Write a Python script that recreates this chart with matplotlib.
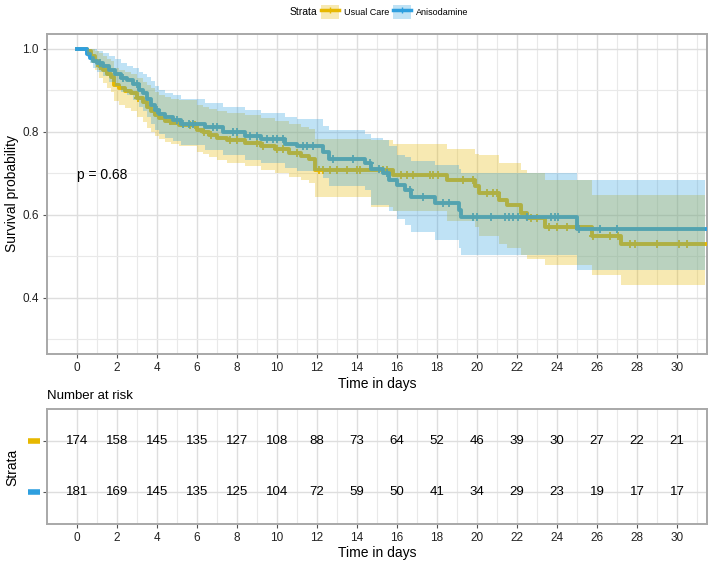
import numpy as np
import matplotlib
matplotlib.use("Agg")
import matplotlib.pyplot as plt
from matplotlib.lines import Line2D
from matplotlib.patches import Patch

plt.rcParams['font.family'] = ['Liberation Sans', 'DejaVu Sans']

strata = ["Usual Care", "Anisodamine"]
colors = ["#E7B800", "#2E9FDF"]

# Usual Care KM curve (change points)
uc_time = [0, 0.5, 0.7, 0.9, 1.1, 1.3, 1.5, 1.7, 1.85, 2.1, 2.4, 2.7, 3.0, 3.3, 3.5, 3.7, 3.9,
           4.1, 4.4, 4.7, 5.1, 6.0, 6.3, 6.6, 7.0, 7.5, 8.4, 9.2, 9.9, 10.6, 11.2, 11.6, 11.9,
           14.7, 15.8, 18.5, 19.9, 20.1, 21.1, 21.5, 22.2, 22.5, 23.4, 25.75, 27.2]
uc_surv = [1.0, 0.994, 0.983, 0.972, 0.96, 0.95, 0.94, 0.933, 0.913, 0.905, 0.899, 0.893, 0.882,
           0.871, 0.86, 0.85, 0.84, 0.833, 0.827, 0.822, 0.817, 0.805, 0.799, 0.793, 0.786, 0.78,
           0.774, 0.766, 0.758, 0.75, 0.742, 0.735, 0.708, 0.708, 0.696, 0.684, 0.67, 0.654,
           0.636, 0.624, 0.604, 0.592, 0.572, 0.55, 0.529]
uc_upper = [1.0, 1.0, 1.0, 0.995, 0.99, 0.983, 0.975, 0.97, 0.955, 0.95, 0.945, 0.94, 0.93, 0.92,
            0.912, 0.905, 0.897, 0.89, 0.885, 0.88, 0.876, 0.866, 0.86, 0.856, 0.85, 0.845, 0.84,
            0.833, 0.826, 0.82, 0.812, 0.806, 0.782, 0.78, 0.772, 0.76, 0.748, 0.744, 0.724,
            0.724, 0.708, 0.70, 0.684, 0.648, 0.648]
uc_lower = [1.0, 0.985, 0.965, 0.95, 0.93, 0.918, 0.905, 0.897, 0.875, 0.865, 0.857, 0.85, 0.835,
            0.823, 0.81, 0.80, 0.79, 0.783, 0.776, 0.77, 0.765, 0.752, 0.746, 0.74, 0.733, 0.726,
            0.718, 0.708, 0.70, 0.692, 0.684, 0.676, 0.644, 0.62, 0.61, 0.585, 0.572, 0.55, 0.53,
            0.52, 0.504, 0.495, 0.48, 0.455, 0.431]
uc_censor = [1.15, 3.05, 4.65, 5.65, 5.9, 6.35, 6.7, 7.65, 8.0, 9.0, 9.3, 10.0, 10.3, 11.0, 12.1,
             12.3, 12.65, 13.0, 13.5, 14.0, 14.15, 15.3, 15.5, 16.2, 16.5, 16.8, 17.65, 17.8,
             18.05, 19.3, 19.8, 20.5, 20.8, 21.0, 22.7, 23.0, 23.6, 24.0, 24.5, 25.8, 26.65,
             27.05, 27.65, 27.9, 29.0, 30.1, 30.5]

# Anisodamine KM curve (change points)
an_time = [0, 0.5, 0.65, 0.8, 1.0, 1.3, 1.6, 1.9, 2.2, 2.5, 2.8, 3.1, 3.3, 3.5, 3.7, 3.9, 4.1,
           4.4, 4.8, 5.2, 6.4, 7.3, 8.4, 9.2, 10.4, 11.0, 12.3, 12.6, 14.4, 14.7, 15.3, 15.6,
           16.0, 16.4, 16.7, 17.9, 19.1, 19.2, 24.98]
an_surv = [1.0, 0.988, 0.977, 0.972, 0.966, 0.96, 0.95, 0.94, 0.93, 0.925, 0.915, 0.90, 0.893,
           0.88, 0.865, 0.853, 0.843, 0.835, 0.828, 0.82, 0.812, 0.80, 0.79, 0.783, 0.772, 0.766,
           0.752, 0.735, 0.725, 0.71, 0.70, 0.684, 0.672, 0.66, 0.643, 0.628, 0.612, 0.594, 0.566]
an_upper = [1.0, 1.0, 1.0, 1.0, 0.995, 0.99, 0.982, 0.975, 0.965, 0.96, 0.955, 0.945, 0.94,
            0.932, 0.922, 0.91, 0.90, 0.895, 0.888, 0.88, 0.87, 0.86, 0.852, 0.845, 0.837, 0.83,
            0.815, 0.805, 0.795, 0.785, 0.78, 0.765, 0.745, 0.74, 0.73, 0.72, 0.71, 0.70, 0.684]
an_lower = [1.0, 0.98, 0.965, 0.955, 0.945, 0.935, 0.92, 0.91, 0.897, 0.89, 0.878, 0.86, 0.85,
            0.835, 0.82, 0.805, 0.795, 0.786, 0.778, 0.768, 0.757, 0.745, 0.733, 0.725, 0.712,
            0.705, 0.688, 0.67, 0.66, 0.625, 0.625, 0.61, 0.59, 0.575, 0.56, 0.54, 0.52, 0.503,
            0.467]
an_censor = [1.15, 2.3, 3.0, 4.0, 5.0, 5.3, 5.6, 5.8, 6.8, 7.0, 7.8, 8.0, 8.65, 9.0, 9.5, 9.8,
             10.0, 10.3, 11.3, 11.5, 11.8, 12.8, 13.8, 14.65, 15.1, 15.5, 16.65, 17.3, 18.3,
             18.6, 19.8, 20.0, 20.7, 21.4, 21.6, 21.8, 22.05, 22.5, 23.7, 23.9, 24.05, 25.1,
             26.15, 27.0]

end_time = 31.4

risk_times = [0, 2, 4, 6, 8, 10, 12, 14, 16, 18, 20, 22, 24, 26, 28, 30]
uc_risk = [174, 158, 145, 135, 127, 108, 88, 73, 64, 52, 46, 39, 30, 27, 22, 21]
an_risk = [181, 169, 145, 135, 125, 104, 72, 59, 50, 41, 34, 29, 23, 19, 17, 17]
p_text = "p = 0.68"

W, H = 710, 565
fig = plt.figure(figsize=(W / 100, H / 100), dpi=100)


def box(l, t, r, b):
    return [l / W, 1 - b / H, (r - l) / W, (b - t) / H]


ax = fig.add_axes(box(47, 34, 707, 354))
ax2 = fig.add_axes(box(47, 409, 707, 524))

XLIM = (-1.5, 31.5)
SPINE = "#A8A8A8"
GRID_MAJ = "#DEDEDE"
GRID_MIN = "#E9E9E9"
TXT = "#222222"


def style(a):
    a.set_xlim(*XLIM)
    a.set_xticks(risk_times)
    a.set_xticks([t + 1 for t in risk_times], minor=True)
    a.grid(which='major', color=GRID_MAJ, lw=1.0, zorder=0)
    a.grid(which='minor', color=GRID_MIN, lw=0.8, zorder=0)
    a.set_axisbelow(True)
    for sp in a.spines.values():
        sp.set_color(SPINE)
        sp.set_linewidth(1.4)
    a.tick_params(which='major', length=3, width=0.8, color="#555555",
                  labelsize=8.5, labelcolor=TXT, pad=3)
    a.tick_params(which='minor', length=0)


style(ax)
ax.set_ylim(0.265, 1.036)
ax.set_yticks([0.4, 0.6, 0.8, 1.0])
ax.set_yticklabels(["0.4", "0.6", "0.8", "1.0"])
ax.set_yticks([0.3, 0.5, 0.7, 0.9], minor=True)

curves = [
    (uc_time, uc_surv, uc_lower, uc_upper, uc_censor, colors[0]),
    (an_time, an_surv, an_lower, an_upper, an_censor, colors[1]),
]

for t, s, lo, hi, cens, c in curves:
    t = np.asarray(t); s = np.asarray(s)
    tt = np.r_[t, end_time]
    ss = np.r_[s, s[-1]]
    ax.step(tt, ss, where='post', color=c, lw=2.8, zorder=3)
    cs = [s[np.searchsorted(t, x, side='right') - 1] for x in cens]
    ax.plot(cens, cs, ls='none', marker='+', ms=6, mew=1.3, color=c, zorder=3)

for t, s, lo, hi, cens, c in curves:
    tt = np.r_[t, end_time]
    ax.fill_between(tt, np.r_[lo, lo[-1]], np.r_[hi, hi[-1]], step='post',
                    color=c, alpha=0.3, lw=0, zorder=4)

ax.text(0, 0.696, p_text, fontsize=10, va='center', ha='left', color="black", zorder=5)

# risk table
style(ax2)
ax2.set_ylim(0.373, 2.627)
ax2.set_yticks([1, 2])
ax2.set_yticklabels(["", ""])
for row, vals in ((2, uc_risk), (1, an_risk)):
    for t, v in zip(risk_times, vals):
        ax2.text(t, row, str(v), ha='center', va='center', fontsize=9.5, color="black")

for row, c in ((2, colors[0]), (1, colors[1])):
    yfig = (ax2.transData.transform((0, row))[1]) / H
    fig.add_artist(Line2D([28 / W, 40 / W], [yfig, yfig], color=c, lw=4,
                          transform=fig.transFigure, solid_capstyle='butt'))

# labels
fig.text(12 / W, 1 - 194 / H, "Survival probability", rotation=90, ha='center', va='center',
         fontsize=10, color="black")
fig.text(377 / W, 1 - 384 / H, "Time in days", ha='center', va='center', fontsize=10,
         color="black")
fig.text(377 / W, 1 - 553 / H, "Time in days", ha='center', va='center', fontsize=10,
         color="black")
fig.text(12 / W, 1 - 467 / H, "Strata", rotation=90, ha='center', va='center', fontsize=10,
         color="black")
fig.text(47 / W, 1 - 396 / H, "Number at risk", ha='left', va='center', fontsize=9.5,
         color="black")

# legend
fig.text(290 / W, 1 - 12 / H, "Strata", ha='left', va='center', fontsize=7.5, color="black")
handles = []
for c in colors:
    handles.append((Patch(facecolor=c, alpha=0.3, edgecolor='none'),
                    Line2D([], [], color=c, lw=2.5, marker='+', ms=5, mew=1.0)))
fig.legend(handles=handles, labels=strata, loc='center left',
           bbox_to_anchor=(321 / W, 1 - 12 / H), ncol=2, frameon=False, fontsize=6.5,
           handlelength=2.0, handleheight=2.0, handletextpad=0.5, columnspacing=0.5,
           borderpad=0, borderaxespad=0)

fig.savefig("out.png", dpi=100)
